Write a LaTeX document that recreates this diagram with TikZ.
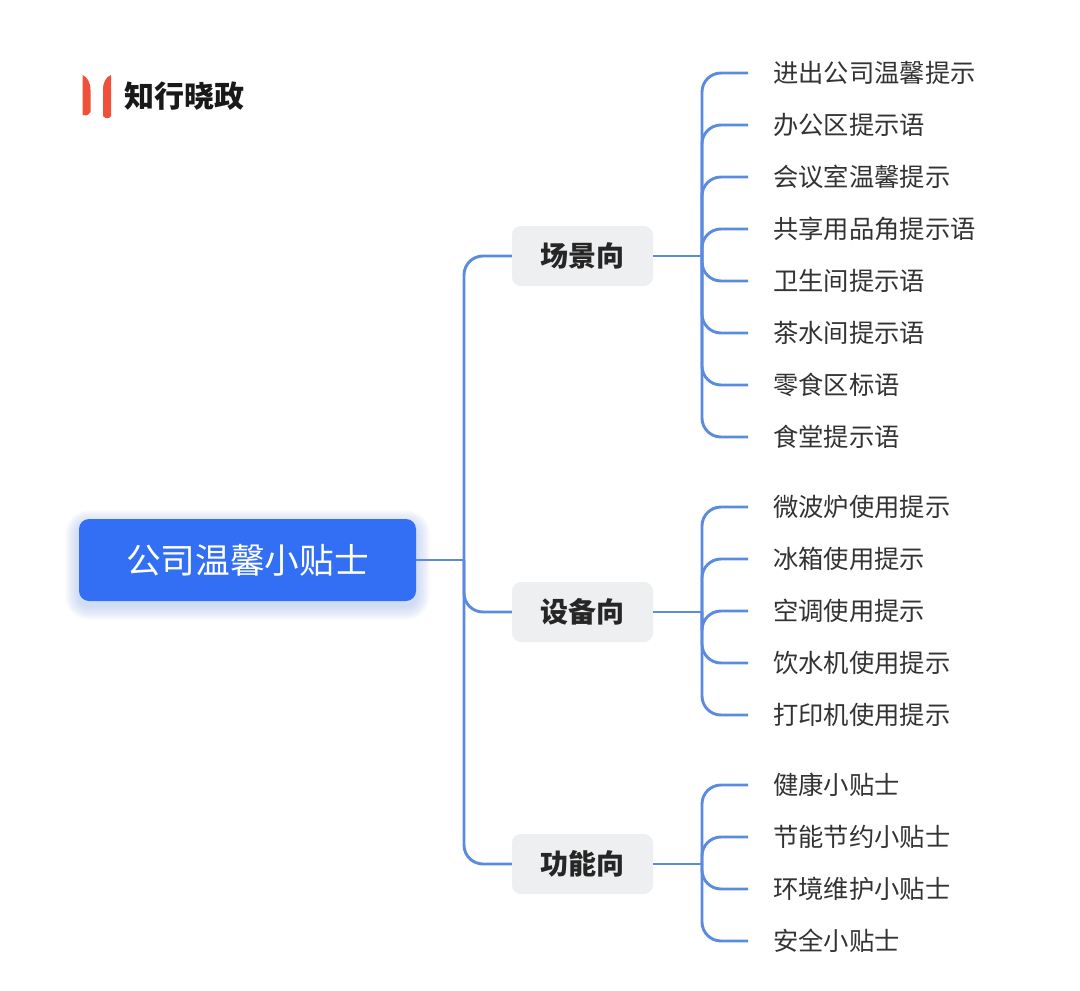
\documentclass[tikz,border=0pt]{standalone}
\usepackage{fontspec}
\setmainfont{Noto Sans CJK SC}
\definecolor{rootblue}{HTML}{326FF5}
\definecolor{link}{HTML}{5B8BDF}
\definecolor{branchbg}{HTML}{EEEFF1}
\definecolor{leaftext}{HTML}{333333}
\definecolor{logored}{HTML}{EE503A}
\begin{document}
\begin{tikzpicture}[
  x=1pt, y=-1pt,
  line cap=round, line join=round,
  every node/.style={text=leaftext},
  rootbox/.style={fill=rootblue, rounded corners=10pt, minimum width=337pt, minimum height=82pt, inner sep=0pt, font=\fontsize{34.7}{40}\selectfont, text=white},
  branchbox/.style={fill=branchbg, rounded corners=9pt, minimum width=141pt, minimum height=60pt, inner sep=0pt, font=\fontsize{28}{32}\selectfont\bfseries, text=black!85},
  leaf/.style={anchor=west, inner xsep=25pt, inner ysep=0pt, font=\fontsize{25.3}{30}\selectfont},
  trunk/.style={draw=link, line width=2.9pt},
  twig/.style={trunk, rounded corners=19pt, line cap=butt},
  logotext/.style={anchor=west, inner sep=0pt, font=\fontsize{30}{34}\selectfont\bfseries, text=black!90},
]
\useasboundingbox[fill=white] (0,0) rectangle (1080,991);
% logo
\fill[logored] (82.5,75) .. controls (87,77) and (90.5,82) .. (90.5,90) -- (90.5,112) .. controls (88,116) and (85,116) .. (82.5,115) -- cycle;
\fill[logored] (111,75) .. controls (106,77) and (103,82) .. (103,90) -- (103,116) .. controls (106,119) and (109,119) .. (111,116) -- cycle;
\node[logotext] (logo) at (124,96) {知行晓政};
% soft shadow of the root box
\foreach \grow in {1,2,...,14}
  \fill[rootblue, opacity=0.016, rounded corners=10pt+\grow*1pt] (79-\grow,519-\grow+5) rectangle (416+\grow,601+\grow+5);
\node[rootbox] (root) at (247.5,560) {公司温馨小贴士};
\node[branchbox] (scene) at (582.5,256) {场景向};
\node[branchbox] (device) at (582.5,612) {设备向};
\node[branchbox] (func) at (582.5,864) {功能向};
\coordinate (hub) at (464,560);
\coordinate (scenefork) at (702,256);
\coordinate (devicefork) at (702,612);
\coordinate (funcfork) at (702,864);
% first level
\draw[trunk, line cap=butt] (root.east) -- (hub);
\foreach \branch in {scene,device,func}
  \draw[twig] (hub) |- (\branch.west);
\foreach \branch in {scene,device,func}
  \draw[trunk, line cap=butt] (\branch.east) -- (\branch fork);
% second level
\foreach \i/\ypos/\txt in {1/73/进出公司温馨提示,2/125/办公区提示语,3/177/会议室温馨提示,4/229/共享用品角提示语,5/281/卫生间提示语,6/333/茶水间提示语,7/385/零食区标语,8/437/食堂提示语}{
  \node[leaf] (scene\i) at (748,\ypos) {\txt};
  \draw[twig] (scenefork) |- (scene\i.west);
}
\foreach \i/\ypos/\txt in {1/507/微波炉使用提示,2/559/冰箱使用提示,3/611/空调使用提示,4/663/饮水机使用提示,5/715/打印机使用提示}{
  \node[leaf] (device\i) at (748,\ypos) {\txt};
  \draw[twig] (devicefork) |- (device\i.west);
}
\foreach \i/\ypos/\txt in {1/785/健康小贴士,2/837/节能节约小贴士,3/889/环境维护小贴士,4/941/安全小贴士}{
  \node[leaf] (func\i) at (748,\ypos) {\txt};
  \draw[twig] (funcfork) |- (func\i.west);
}
\end{tikzpicture}
\end{document}
